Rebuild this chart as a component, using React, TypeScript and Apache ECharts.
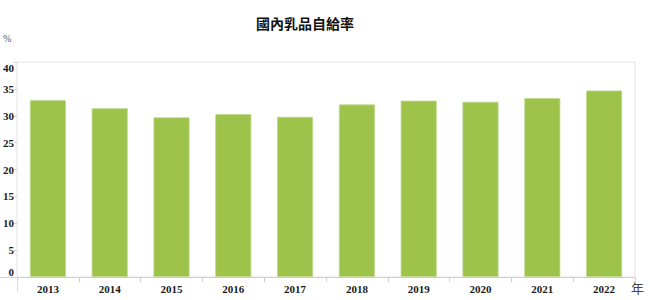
import React, { useEffect, useRef } from "react";
import * as echarts from "echarts";

const years = ["2013", "2014", "2015", "2016", "2017", "2018", "2019", "2020", "2021", "2022"];
const selfSufficiency = [32.9, 31.4, 29.7, 30.3, 29.8, 32.1, 32.8, 32.6, 33.3, 34.7];
const titleText = "國內乳品自給率";
const yUnit = "%";
const xUnit = "年";

export default function App() {
  const ref = useRef<HTMLDivElement>(null);
  useEffect(() => {
    document.body.style.margin = "0";
    if (!ref.current) return;
    const chart = echarts.init(ref.current, null, { renderer: "svg" });
    const serif = "'Liberation Serif', 'Times New Roman', serif";
    chart.setOption({
      animation: false,
      backgroundColor: "#ffffff",
      title: {
        text: titleText,
        left: 256,
        top: 16,
        padding: 0,
        textStyle: {
          fontFamily: "'Noto Sans CJK TC', sans-serif",
          fontSize: 14,
          fontWeight: "bold",
          color: "#111",
        },
      },
      grid: {
        left: 17,
        right: 15,
        top: 62,
        bottom: 23,
        show: true,
        borderColor: "#e4e4e4",
        borderWidth: 1,
        containLabel: false,
      },
      xAxis: {
        type: "category",
        data: years,
        axisLine: { show: true, lineStyle: { color: "#cfcfcf", width: 1 } },
        axisTick: { show: true, length: 5, lineStyle: { color: "#d0d0d0" } },
        axisLabel: {
          fontFamily: serif,
          fontWeight: "bold",
          fontSize: 11,
          color: "#1a1a1a",
          margin: 6,
        },
      },
      yAxis: {
        type: "value",
        min: 0,
        max: 40,
        interval: 5,
        splitLine: { show: false },
        axisLine: { show: false },
        axisTick: { show: true, length: 3, lineStyle: { color: "#cfcfcf" } },
        axisLabel: {
          fontFamily: serif,
          fontWeight: "bold",
          fontSize: 11,
          color: "#1a1a1a",
          margin: 3,
          verticalAlignMinLabel: "bottom",
          verticalAlignMaxLabel: "top",
        },
      },
      graphic: [
        {
          type: "line",
          shape: { x1: 0, y1: 277.5, x2: 17, y2: 277.5 },
          style: { stroke: "#cfcfcf", lineWidth: 1 },
        },
        {
          type: "line",
          shape: { x1: 17.5, y1: 277, x2: 17.5, y2: 292 },
          style: { stroke: "#dcdcdc", lineWidth: 1 },
        },
        {
          type: "text",
          x: 3,
          y: 38,
          style: {
            text: yUnit,
            fontFamily: serif,
            fontSize: 10,
            fill: "#555",
            verticalAlign: "middle",
          },
        },
        {
          type: "text",
          x: 631,
          y: 287,
          style: {
            text: xUnit,
            fontFamily: "'Noto Sans CJK TC', sans-serif",
            fontSize: 13,
            fill: "#444",
            verticalAlign: "middle",
          },
        },
      ],
      series: [
        {
          type: "bar",
          data: selfSufficiency,
          barWidth: 36,
          itemStyle: { color: "#9dc34b", borderColor: "#bcd88a", borderWidth: 0.8 },
        },
      ],
    });
    return () => chart.dispose();
  }, []);
  return (
    <div
      ref={ref}
      style={{ position: "absolute", left: 0, top: 0, width: 650, height: 300 }}
    />
  );
}
